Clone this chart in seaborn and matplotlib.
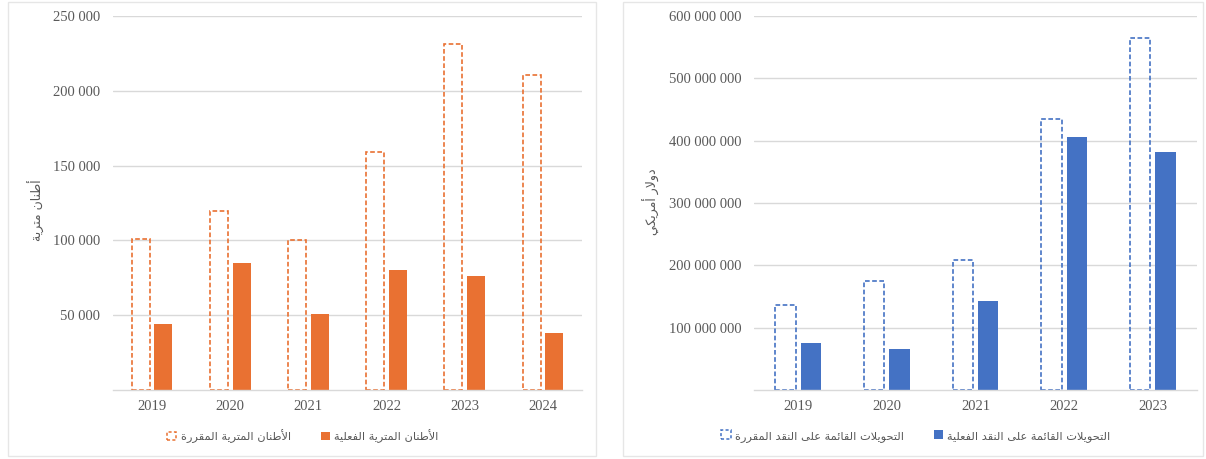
import matplotlib
matplotlib.use("Agg")
import matplotlib.pyplot as plt
import matplotlib.ticker as mticker
from matplotlib.patches import Patch, Rectangle
import seaborn as sns
import pandas as pd

# data
years_tons = ['2019', '2020', '2021', '2022', '2023', '2024']
tons_planned = [101000, 119500, 100500, 159000, 231000, 210500]
tons_actual = [44000, 85000, 51000, 80000, 76000, 38000]

years_cash = ['2019', '2020', '2021', '2022', '2023']
cash_planned = [137000000, 175000000, 209000000, 434000000, 564000000]
cash_actual = [75000000, 66000000, 143000000, 406000000, 382000000]

label_tons = 'أطنان مترية'
label_cash = 'دولار أمريكي'
legend_tons = ['الأطنان المترية المقررة', 'الأطنان المترية الفعلية']
legend_cash = ['التحويلات القائمة على النقد المقررة', 'التحويلات القائمة على النقد الفعلية']

ORANGE = '#E97132'
BLUE = '#4472C4'
GRID = '#D9D9D9'
TEXT = '#595959'

# minimal arabic shaping (matplotlib has no bidi / joining support)
FORMS = {
    'ا': ('\uFE8D', '\uFE8E', None, None),
    'أ': ('\uFE83', '\uFE84', None, None),
    'ة': ('\uFE93', '\uFE94', None, None),
    'د': ('\uFEA9', '\uFEAA', None, None),
    'ر': ('\uFEAD', '\uFEAE', None, None),
    'و': ('\uFEED', '\uFEEE', None, None),
    'ى': ('\uFEEF', '\uFEF0', None, None),
    'ت': ('\uFE95', '\uFE96', '\uFE97', '\uFE98'),
    'ح': ('\uFEA1', '\uFEA2', '\uFEA3', '\uFEA4'),
    'ط': ('\uFEC1', '\uFEC2', '\uFEC3', '\uFEC4'),
    'ع': ('\uFEC9', '\uFECA', '\uFECB', '\uFECC'),
    'ف': ('\uFED1', '\uFED2', '\uFED3', '\uFED4'),
    'ق': ('\uFED5', '\uFED6', '\uFED7', '\uFED8'),
    'ك': ('\uFED9', '\uFEDA', '\uFEDB', '\uFEDC'),
    'ل': ('\uFEDD', '\uFEDE', '\uFEDF', '\uFEE0'),
    'م': ('\uFEE1', '\uFEE2', '\uFEE3', '\uFEE4'),
    'ن': ('\uFEE5', '\uFEE6', '\uFEE7', '\uFEE8'),
    'ي': ('\uFEF1', '\uFEF2', '\uFEF3', '\uFEF4'),
    'ئ': ('\uFE89', '\uFE8A', '\uFE8B', '\uFE8C'),
}
LAM_ALEF = {'آ': ('\uFEF5', '\uFEF6'), 'أ': ('\uFEF7', '\uFEF8'),
            'إ': ('\uFEF9', '\uFEFA'), 'ا': ('\uFEFB', '\uFEFC')}


def shape(s):
    res = []
    i = 0
    n = len(s)
    while i < n:
        c = s[i]
        if c not in FORMS:
            res.append(c)
            i += 1
            continue
        prev = s[i - 1] if i > 0 else None
        conn_prev = prev in FORMS and FORMS[prev][2] is not None
        if c == 'ل' and i + 1 < n and s[i + 1] in LAM_ALEF:
            iso, fin = LAM_ALEF[s[i + 1]]
            res.append(fin if conn_prev else iso)
            i += 2
            continue
        nxt = s[i + 1] if i + 1 < n else None
        iso, fin, ini, med = FORMS[c]
        conn_next = ini is not None and nxt in FORMS
        if conn_prev and conn_next:
            res.append(med)
        elif conn_prev:
            res.append(fin)
        elif conn_next:
            res.append(ini)
        else:
            res.append(iso)
        i += 1
    return ''.join(reversed(res))


def spaced(x, pos):
    return f'{int(round(x)):,}'.replace(',', ' ')


sns.set_style('white')
plt.rcParams['font.family'] = ['Liberation Serif', 'DejaVu Sans']

fig = plt.figure(figsize=(12.06, 4.59), dpi=100)
W, H = 1206, 459

# chart area frames
for x0, x1 in [(8, 596), (623, 1203)]:
    fig.patches.append(Rectangle((x0 / W, 1 - 456 / H), (x1 - x0) / W, 454 / H,
                                 transform=fig.transFigure, facecolor='none',
                                 edgecolor='#E6E6E6', linewidth=1.0, zorder=-1))


def draw(rect, years, planned, actual, color, ymax, step, ylabel, labels, ylab_xy, leg_xy):
    ax = fig.add_axes(rect)
    ax.patch.set_alpha(0)
    df = pd.DataFrame({
        'year': years * 2,
        'value': planned + actual,
        'kind': ['planned'] * len(years) + ['actual'] * len(years),
    })
    sns.barplot(data=df, x='year', y='value', hue='kind', hue_order=['planned', 'actual'],
                palette=[color, color], saturation=1, width=0.576, gap=0.2,
                legend=False, ax=ax)
    # planned bars: outline only, dashed
    for p in ax.containers[0]:
        p.set_facecolor('none')
        p.set_edgecolor(color)
        p.set_linewidth(1.2)
        p.set_linestyle((0, (2.8, 1.5)))
    for p in ax.containers[1]:
        p.set_edgecolor('none')

    ax.set_ylim(0, ymax)
    ax.set_xlim(-0.5, len(years) - 0.5)
    ax.yaxis.set_major_locator(mticker.MultipleLocator(step))
    ax.yaxis.set_major_formatter(mticker.FuncFormatter(spaced))
    ax.grid(axis='y', color=GRID, linewidth=1.0)
    ax.set_axisbelow(True)
    for s in ['top', 'right', 'left']:
        ax.spines[s].set_visible(False)
    ax.spines['bottom'].set_color(GRID)
    ax.spines['bottom'].set_linewidth(1.0)
    ax.tick_params(axis='both', length=0, labelsize=10.5, labelcolor=TEXT)
    ax.tick_params(axis='y', pad=9)
    ax.tick_params(axis='x', pad=7)
    ax.set_xlabel('')
    ax.set_ylabel('')
    # the 0 tick is not labelled in the reference
    ax.set_yticks([t for t in ax.get_yticks() if 0 < t <= ymax])
    ax.set_ylim(0, ymax)

    fig.text(ylab_xy[0] / W, 1 - ylab_xy[1] / H, shape(ylabel), rotation=90,
             ha='center', va='center', fontsize=9, color=TEXT, family='DejaVu Sans')

    handles = [
        Patch(facecolor='none', edgecolor=color, linestyle=(0, (2, 1.5)), linewidth=1.1),
        Patch(facecolor=color, edgecolor='none'),
    ]
    fig.legend(handles, [shape(t) for t in labels], loc='center',
               bbox_to_anchor=(leg_xy[0] / W, 1 - leg_xy[1] / H), bbox_transform=fig.transFigure,
               ncol=2, frameon=False, handlelength=0.8, handleheight=0.8, handletextpad=0.4,
               columnspacing=2.6, prop={'family': 'DejaVu Sans', 'size': 8.2},
               labelcolor=TEXT)
    return ax


draw([113 / W, 1 - 390 / H, 469 / W, 374 / H], years_tons, tons_planned, tons_actual,
     ORANGE, 250000, 50000, label_tons, legend_tons, (36, 210), (303, 436))
draw([754 / W, 1 - 390 / H, 443 / W, 374 / H], years_cash, cash_planned, cash_actual,
     BLUE, 600000000, 100000000, label_cash, legend_cash, (651, 202), (916, 436))

fig.savefig('out.png', dpi=100, facecolor='white')
